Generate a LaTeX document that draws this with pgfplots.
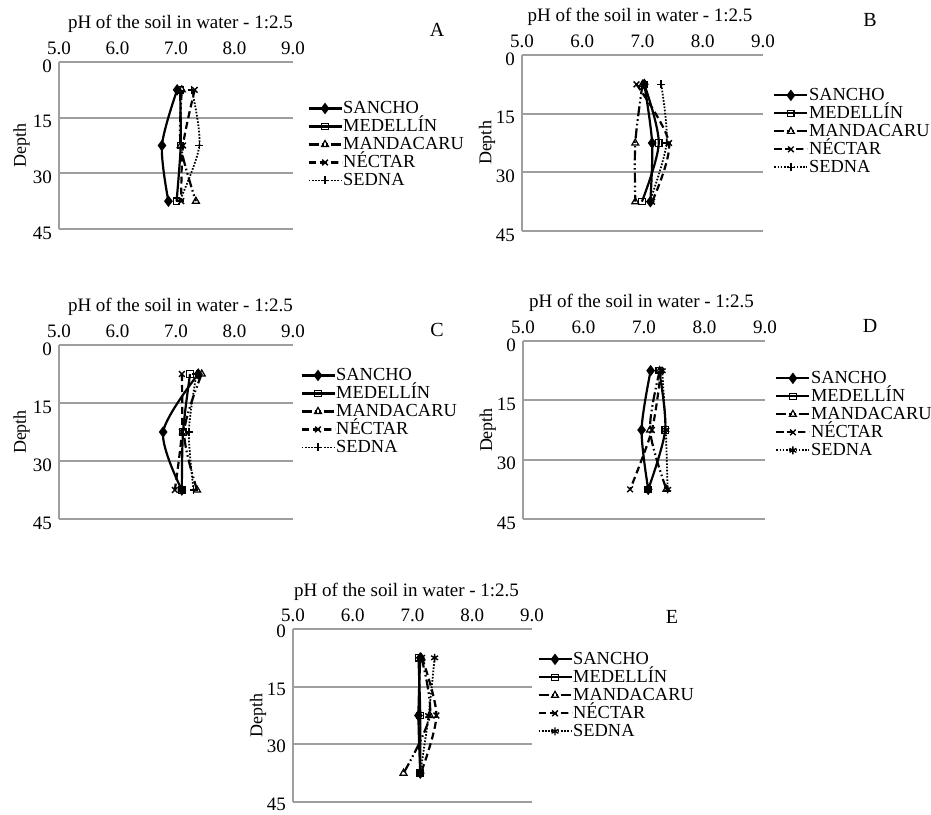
\documentclass[border=0pt]{standalone}
\usepackage{fontspec}
\setmainfont{Liberation Serif}
\usepackage{pgfplots}
\pgfplotsset{compat=1.18}

\pgfplotsset{
  legend image code/.code={\draw[mark repeat=2,mark phase=2,#1] plot coordinates {(0pt,0pt) (8.25pt,0pt) (16.5pt,0pt)};},
  panel/.style={
    scale only axis,
    clip=false,
    xmin=5, xmax=9, ymin=0, ymax=45,
    y dir=reverse,
    xtick={5,6,7,8,9},
    ytick={0,15,30,45},
    xticklabel pos=right,
    major tick length=0pt,
    axis line style={draw=none},
    ymajorgrids,
    grid style={draw=black!38, line width=1pt},
    x tick label style={/pgf/number format/.cd, fixed, fixed zerofill, precision=1, assume math mode=true},
    y tick label style={/pgf/number format/assume math mode=true, yshift=-2pt},
    tick label style={font=\fontsize{9.5}{11}\selectfont},
    ylabel={Depth},
    label style={font=\fontsize{9}{11}\selectfont},
    title={pH of the soil in water - 1:2.5},
    title style={font=\fontsize{9.5}{11}\selectfont, anchor=base, yshift=10.5pt},
    legend style={draw=none, fill=none, anchor=north west, font=\fontsize{9.2}{10}\selectfont,
      inner sep=0pt, row sep=0pt, nodes={inner sep=0.3pt, text height=6.8pt, text depth=1.6pt}},
    legend cell align=left,
    after end axis/.code={\draw[black!38, line width=1pt] (rel axis cs:0,0) -- (rel axis cs:0,1);},
  },
  s1/.style={black, line width=1.1pt, solid, smooth, mark=diamond*, mark size=2pt, mark options={solid, fill=black}},
  s2/.style={black, line width=1.1pt, solid, smooth, mark=square, mark size=1.6pt, mark options={solid, fill=white, line width=0.6pt}},
  s3/.style={black, line width=1.1pt, dash pattern=on 5pt off 1.5pt on 0.8pt off 1.5pt on 0.8pt off 1.5pt, smooth, mark=triangle, mark size=2pt, mark options={solid, fill=white, line width=0.6pt}},
  s4/.style={black, line width=1.1pt, dash pattern=on 3.5pt off 2pt, smooth, mark=x, mark size=2pt, mark options={solid, line width=0.7pt}},
  s5/.style={black, line width=0.9pt, dash pattern=on 0.8pt off 0.8pt, smooth, mark=+, mark size=2pt, mark options={solid, line width=0.7pt}},
  s5b/.style={s5, mark=asterisk},
}

\begin{document}
\begin{tikzpicture}
\useasboundingbox (0,0) rectangle (465.5pt,407pt);

% Panel A
\begin{axis}[panel, at={(29.5pt,376pt)}, anchor=north west, width=117pt, height=83.5pt,
  title style={at={(0.519,1)}}, ylabel style={at={(axis description cs:-0.16,0.5)}, anchor=center},
  legend style={at={(1.06,0.778)}}]
\addplot[s1] coordinates {(7.02,7.5) (6.76,22.5) (6.87,37.5)};
\addplot[s2] coordinates {(7.07,7.5) (7.08,22.5) (7.01,37.5)};
\addplot[s3] coordinates {(7.10,7.5) (7.08,22.5) (7.34,37.5)};
\addplot[s4] coordinates {(7.32,7.5) (7.12,22.5) (7.09,37.5)};
\addplot[s5] coordinates {(7.27,7.5) (7.40,22.5) (7.06,37.5)};
\legend{SANCHO, MEDELLÍN, MANDACARU, NÉCTAR, SEDNA}
\end{axis}

% Panel B
\begin{axis}[panel, at={(261pt,379.5pt)}, anchor=north west, width=120.5pt, height=88pt,
  title style={at={(0.49,1)}}, ylabel style={at={(axis description cs:-0.145,0.5)}, anchor=center},
  legend style={at={(1.041,0.824)}}]
\addplot[s1] coordinates {(7.03,7.5) (7.16,22.5) (7.13,37.5)};
\addplot[s2] coordinates {(7.03,7.5) (7.27,22.5) (6.99,37.5)};
\addplot[s3] coordinates {(7.00,7.5) (6.88,22.5) (6.88,37.5)};
\addplot[s4] coordinates {(6.90,7.5) (7.44,22.5) (7.16,37.5)};
\addplot[s5] coordinates {(7.31,7.5) (7.40,22.5) (7.12,37.5)};
\legend{SANCHO, MEDELLÍN, MANDACARU, NÉCTAR, SEDNA}
\end{axis}

% Panel C
\begin{axis}[panel, at={(29.5pt,234.5pt)}, anchor=north west, width=117pt, height=87pt,
  title style={at={(0.519,1)}}, ylabel style={at={(axis description cs:-0.16,0.5)}, anchor=center},
  legend style={at={(1.03,0.879)}}]
\addplot[s1] coordinates {(7.38,7.5) (6.78,22.5) (7.10,37.5)};
\addplot[s2] coordinates {(7.24,7.5) (7.12,22.5) (7.10,37.5)};
\addplot[s3] coordinates {(7.44,7.5) (7.14,22.5) (7.36,37.5)};
\addplot[s4] coordinates {(7.10,7.5) (7.10,22.5) (6.98,37.5)};
\addplot[s5] coordinates {(7.35,7.5) (7.22,22.5) (7.30,37.5)};
\legend{SANCHO, MEDELLÍN, MANDACARU, NÉCTAR, SEDNA}
\end{axis}

% Panel D
\begin{axis}[panel, at={(261.5pt,236.5pt)}, anchor=north west, width=121pt, height=89pt,
  title style={at={(0.49,1)}}, ylabel style={at={(axis description cs:-0.145,0.5)}, anchor=center},
  legend style={at={(1.041,0.843)}}]
\addplot[s1] coordinates {(7.11,7.5) (6.96,22.5) (7.07,37.5)};
\addplot[s2] coordinates {(7.25,7.5) (7.35,22.5) (7.07,37.5)};
\addplot[s3] coordinates {(7.26,7.5) (7.10,22.5) (7.37,37.5)};
\addplot[s4] coordinates {(7.28,7.5) (7.13,22.5) (6.77,37.5)};
\addplot[s5b] coordinates {(7.30,7.5) (7.36,22.5) (7.39,37.5)};
\legend{SANCHO, MEDELLÍN, MANDACARU, NÉCTAR, SEDNA}
\end{axis}

% Panel E
\begin{axis}[panel, at={(146.5pt,92.5pt)}, anchor=north west, width=119.5pt, height=86.5pt,
  y tick label style={yshift=0.8pt},
  title style={at={(0.475,1)}}, ylabel style={at={(axis description cs:-0.146,0.5)}, anchor=center},
  legend style={at={(1.021,0.879)}}]
\addplot[s1] coordinates {(7.13,7.5) (7.10,22.5) (7.13,37.5)};
\addplot[s2] coordinates {(7.10,7.5) (7.13,22.5) (7.13,37.5)};
\addplot[s3] coordinates {(7.15,7.5) (7.29,22.5) (6.85,37.5)};
\addplot[s4] coordinates {(7.16,7.5) (7.40,22.5) (7.14,37.5)};
\addplot[s5b] coordinates {(7.37,7.5) (7.27,22.5) (7.13,37.5)};
\legend{SANCHO, MEDELLÍN, MANDACARU, NÉCTAR, SEDNA}
\end{axis}

\node[font=\fontsize{10}{12}\selectfont] at (218.5pt,392pt) {A};
\node[font=\fontsize{10}{12}\selectfont] at (435pt,397pt) {B};
\node[font=\fontsize{10}{12}\selectfont] at (218.5pt,242pt) {C};
\node[font=\fontsize{10}{12}\selectfont] at (435pt,244pt) {D};
\node[font=\fontsize{10}{12}\selectfont] at (336pt,98.5pt) {E};
\end{tikzpicture}
\end{document}
